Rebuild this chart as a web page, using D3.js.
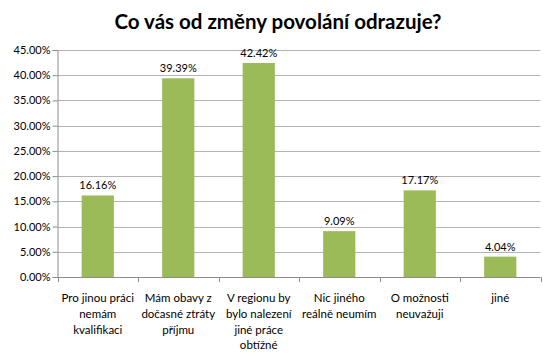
<!DOCTYPE html>
<html><head><meta charset="utf-8">
<script src="https://cdn.jsdelivr.net/npm/d3@7/dist/d3.min.js"></script>
<style>body{margin:0;background:#fff}svg{display:block}text{font-family:Lato,"Open Sans",sans-serif}</style>
</head><body><svg id="c" width="552" height="364"></svg>
<script>
const categories = [
  ["Pro jinou práci","nemám","kvalifikaci"],
  ["Mám obavy z","dočasné ztráty","příjmu"],
  ["V regionu by","bylo nalezení","jiné práce","obtížné"],
  ["Nic jiného","reálně neumím"],
  ["O možnosti","neuvažuji"],
  ["jiné"]
];
const values = [16.16, 39.39, 42.42, 9.09, 17.17, 4.04];
const yTicks = [0,5,10,15,20,25,30,35,40,45];

const svg = d3.select("#c");
const m = {l:57.5, r:540.5, t:50, b:277};
const x = d3.scaleBand().domain(d3.range(categories.length)).range([m.l, m.r]).paddingInner(0.6).paddingOuter(0.3);
const xb = d3.scaleBand().domain(d3.range(categories.length)).range([m.l, m.r]);
const y = d3.scaleLinear().domain([0,45]).range([m.b, m.t]);

svg.append("text").attr("x",278).attr("y",29).attr("text-anchor","middle")
  .style("font-size","20.5px").style("font-weight","bold").attr("fill","#000")
  .text("Co vás od změny povolání odrazuje?");

// grid
svg.append("g").selectAll("line").data(yTicks.filter(d=>d>0)).join("line")
  .attr("x1",m.l).attr("x2",m.r).attr("y1",d=>Math.round(y(d))+0.5).attr("y2",d=>Math.round(y(d))+0.5)
  .attr("stroke","#b3b3b3").attr("stroke-width",1);

const yAxis = svg.append("g").attr("transform",`translate(${m.l},0)`)
  .call(d3.axisLeft(y).tickValues(yTicks).tickSize(5).tickFormat(d=>d.toFixed(2)+"%"));
yAxis.select(".domain").attr("stroke","#8c8c8c");
yAxis.selectAll(".tick line").attr("stroke","#8c8c8c");
yAxis.selectAll(".tick text").style("font-size","11px").attr("fill","#000").attr("x",-7);

// bars
svg.append("g").selectAll("rect").data(values).join("rect")
  .attr("x",(d,i)=>x(i)).attr("width",x.bandwidth())
  .attr("y",d=>y(d)).attr("height",d=>y(0)-y(d)).attr("fill","#9bbb59");

svg.append("g").selectAll("text").data(values).join("text")
  .attr("x",(d,i)=>x(i)+x.bandwidth()/2).attr("y",d=>y(d)-6).attr("text-anchor","middle")
  .style("font-size","11px").attr("fill","#000").text(d=>d.toFixed(2)+"%");

// x axis
svg.append("line").attr("x1",m.l).attr("x2",m.r).attr("y1",m.b+0.5).attr("y2",m.b+0.5).attr("stroke","#8c8c8c");
svg.append("g").selectAll("line").data(d3.range(categories.length+1)).join("line")
  .attr("x1",i=>Math.round(m.l + i*xb.step())+0.5).attr("x2",i=>Math.round(m.l + i*xb.step())+0.5)
  .attr("y1",m.b).attr("y2",m.b+5).attr("stroke","#8c8c8c");

const lab = svg.append("g").selectAll("text").data(categories).join("text")
  .attr("x",(d,i)=>xb(i)+xb.bandwidth()/2).attr("y",302).attr("text-anchor","middle")
  .style("font-size","11.5px").attr("fill","#000");
lab.selectAll("tspan").data(d=>d).join("tspan")
  .attr("x",function(){return this.parentNode.getAttribute("x");})
  .attr("dy",(d,i)=>i===0?0:15.8).text(d=>d);
</script></body></html>
